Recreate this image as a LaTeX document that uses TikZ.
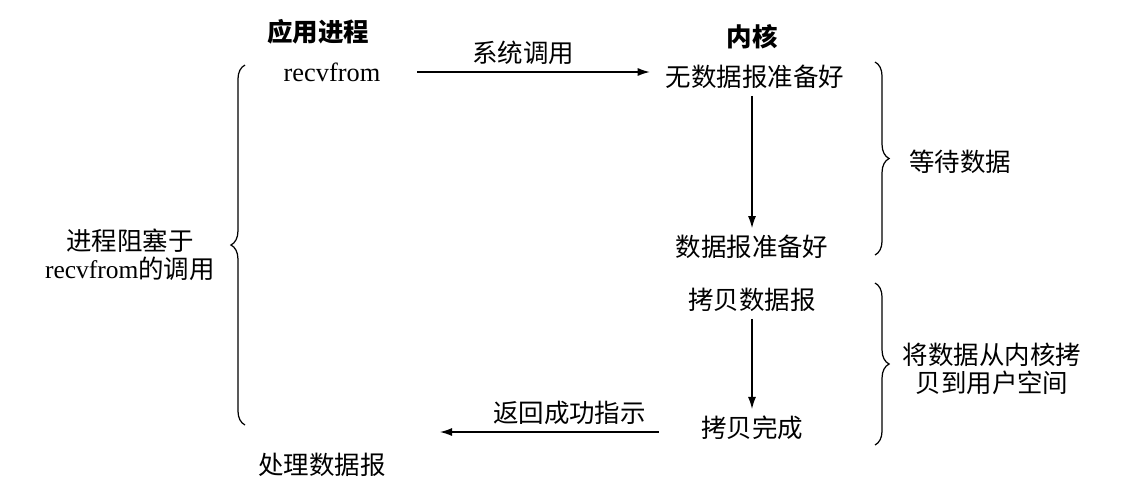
\documentclass[tikz,border=0pt]{standalone}
\usepackage{fontspec}
\newfontfamily\cjk{Noto Sans CJK SC}
\newfontfamily\lat{Liberation Serif}
\usetikzlibrary{positioning,arrows.meta,decorations.pathreplacing}

\begin{document}
\begin{tikzpicture}[x=0.02cm,y=-0.02cm,font=\cjk\fontsize{14.5}{16}\selectfont,
  t/.style={inner sep=1pt,align=center},
  hd/.style={t,font=\cjk\bfseries\fontsize{14.5}{16}\selectfont},
  ar/.style={-{Latex[length=2.4mm,width=1.6mm]},line width=0.7pt},
  br/.style={decorate,decoration={brace,amplitude=8pt},line width=0.7pt}]
  \useasboundingbox (0,0) rectangle (1135,485);
  % user side
  \node[hd] (app) at (318,32) {应用进程};
  \node[t,font=\lat\fontsize{15}{16}\selectfont] (rf) at (332,72) {recvfrom};
  \node[t] (pr) at (322,465) {处理数据报};
  \node[t] (blk) at (130,255) {进程阻塞于\\{\lat recvfrom}的调用};
  % kernel side
  \node[hd] (ker) at (752,37) {内核};
  \node[t] (nd) at (755,77) {无数据报准备好};
  \node[t] (dr) at (752,247) {数据报准备好};
  \node[t] (cp) at (752,300) {拷贝数据报};
  \node[t] (cd) at (752,428) {拷贝完成};
  \node[t] (wt) at (960,162) {等待数据};
  \node[t] (cu) at (992,369) {将数据从内核拷\\贝到用户空间};
  \coordinate (ret) at (440,432);
  \draw[ar,shorten <=0.7cm,shorten >=0.28cm] (rf.east) -- node[t,above=3pt] (sc) {系统调用} (nd.west|-rf.east);
  \draw[ar,shorten <=0.1cm,shorten >=0.1cm] (dr.north|-nd.south) -- (dr);
  \draw[ar,shorten <=0.1cm,shorten >=0.1cm] (cp) -- (cd);
  \draw[ar,shorten <=0.8cm] (cd.west|-ret) -- node[t,above=3pt] (rs) {返回成功指示} (ret);
  % braces
  \draw[br] (875,62) -- (875,255);
  \draw[br] (875,283) -- (875,445);
  \draw[br] (245,425) -- (245,65);
\end{tikzpicture}
\end{document}
